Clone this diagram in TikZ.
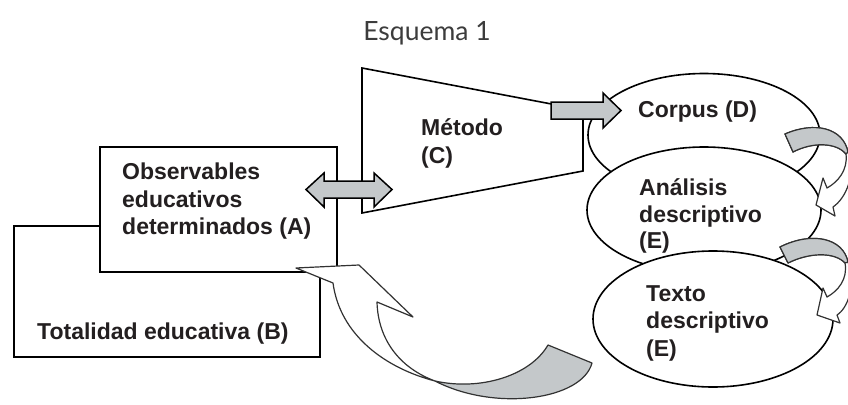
\documentclass[tikz,border=0pt]{standalone}
\usepackage{fontspec}
\setmainfont{Liberation Sans}
\newfontfamily\titlefont{Lato}
\usetikzlibrary{shapes.geometric}
\definecolor{arrowgray}{RGB}{196,200,202}
\definecolor{txt}{RGB}{35,31,32}
\definecolor{titlegray}{RGB}{60,60,60}
\definecolor{curveline}{RGB}{50,50,50}
\begin{document}
\begin{tikzpicture}[x=1pt,y=-1pt,
  shapeline/.style={draw=black,line width=1.6pt,fill=white,inner sep=0pt},
  blockarrow/.style={draw=black,line width=1.5pt,fill=arrowgray,line join=miter},
  curvewhite/.style={draw=curveline,line width=1.2pt,fill=white,line join=round},
  curvegray/.style={draw=curveline,line width=1.2pt,fill=arrowgray,line join=round},
  lbl/.style={anchor=base west,inner sep=0pt,font=\fontsize{23}{27}\selectfont\bfseries,text=txt}]
\useasboundingbox[fill=white] (0,0) rectangle (848,404);

% title
\node[anchor=base,inner sep=0pt,font=\titlefont\fontsize{26.5}{30}\selectfont,text=titlegray] (title) at (427,41) {Esquema 1};

% boxes
\node[shapeline,anchor=north west,minimum width=306pt,minimum height=131pt] (boxB) at (13,225) {};
\node[shapeline,anchor=north west,minimum width=237pt,minimum height=125pt] (boxA) at (99,146) {};

% method trapezoid
\coordinate (c1) at (362,68);
\coordinate (c2) at (583,110);
\coordinate (c3) at (583,171);
\coordinate (c4) at (362,213);
\draw[shapeline,line join=miter] (c1) -- (c2) -- (c3) -- (c4) -- cycle;

% ellipses
\node[ellipse,shapeline,minimum width=232pt,minimum height=123pt] (D) at (704,135) {};
\node[ellipse,shapeline,minimum width=234pt,minimum height=126pt] (E1) at (704,210) {};
\node[ellipse,shapeline,minimum width=240pt,minimum height=136pt] (E2) at (713,319) {};

% double arrow A <-> C
\draw[blockarrow] (306,189.5) -- (324,173) -- (324,181) -- (374,181) -- (374,173) -- (392,189.5)
  -- (374,207) -- (374,198) -- (324,198) -- (324,207) -- cycle;

% arrow C -> D
\draw[blockarrow] (551,102) -- (603,102) -- (603,93) -- (621,110.5) -- (603,128) -- (603,119) -- (551,119) -- cycle;

% curved arrow D -> E1
\draw[curvewhite] (785,134) .. controls (815,121) and (843,128) .. (848,152)
  .. controls (856,175) and (846,198) .. (833,207) -- (835,216) -- (816,205) -- (823,178) -- (827,188)
  .. controls (838,182) and (848,170) .. (846,154)
  .. controls (836,142) and (812,142) .. (793,152) -- cycle;
\draw[curvegray] (785,134) .. controls (815,121) and (843,128) .. (848,152) -- (846,154)
  .. controls (836,142) and (812,142) .. (793,152) -- cycle;

% curved arrow E1 -> E2
\draw[curvewhite] (780,247) .. controls (812,231) and (843,238) .. (848,262)
  .. controls (856,285) and (848,308) .. (837,315) -- (840,323) -- (817,315) -- (823,288) -- (827,297)
  .. controls (838,291) and (848,279) .. (845,263)
  .. controls (835,252) and (810,252) .. (788,263) -- cycle;
\draw[curvegray] (780,247) .. controls (812,231) and (843,238) .. (848,262) -- (845,263)
  .. controls (835,252) and (810,252) .. (788,263) -- cycle;

% big curved arrow back to A
\draw[curvegray] (435,381) .. controls (480,391) and (530,376) .. (548,345) -- (592,363)
  .. controls (582,400) and (495,412) .. (435,381) -- cycle;
\draw[curvewhite] (296,268) -- (333,283) .. controls (340,335) and (385,368) .. (435,381)
  .. controls (400,368) and (378,340) .. (377,302) -- (413,317) -- (359,265) -- cycle;

% labels
\node[lbl] (a1) at (122,179) {Observables};
\node[lbl] (a2) at (122,207) {educativos};
\node[lbl] (a3) at (122,234) {determinados (A)};
\node[lbl] (b1) at (37,339) {Totalidad educativa (B)};
\node[lbl] (m1) at (421,135) {Método};
\node[lbl] (m2) at (421,163) {(C)};
\node[lbl] (d1) at (638,117) {Corpus (D)};
\node[lbl] (e11) at (639,195) {Análisis};
\node[lbl] (e12) at (639,222) {descriptivo};
\node[lbl] (e13) at (639,248) {(E)};
\node[lbl] (e21) at (646,301) {Texto};
\node[lbl] (e22) at (646,328) {descriptivo};
\node[lbl] (e23) at (646,356) {(E)};
\end{tikzpicture}
\end{document}
